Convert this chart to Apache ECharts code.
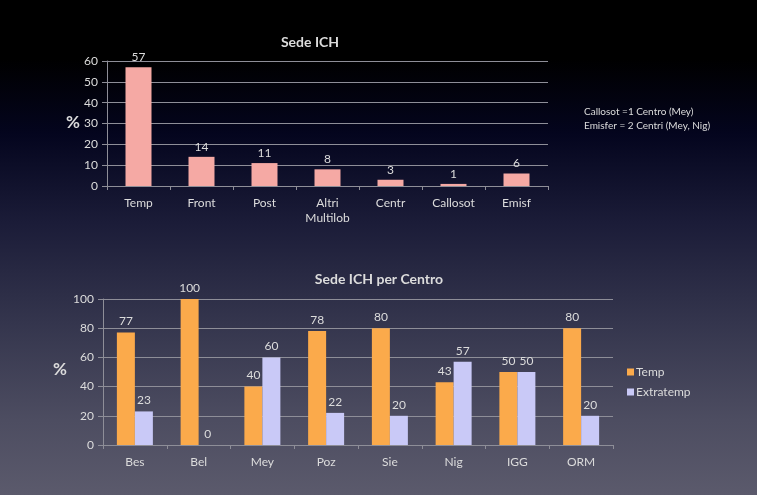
<!DOCTYPE html>
<html><head><meta charset="utf-8">
<script src="https://cdn.jsdelivr.net/npm/echarts@6/dist/echarts.min.js"></script>
<style>
html,body{margin:0;padding:0;}
body{background:linear-gradient(to bottom,#000 0%,#000 12%,#04051e 27%,#1b1c38 45%,#34354d 65%,#4d4d61 85%,#5b5a6c 100%);}
#c{width:757px;height:495px;}
</style></head><body><div id="c"></div>
<script>
const sedeCategories = ['Temp', 'Front', 'Post', 'Altri\nMultilob', 'Centr', 'Callosot', 'Emisf'];
const sedeValues = [57, 14, 11, 8, 3, 1, 6];
const sedeTicks = [0, 10, 20, 30, 40, 50, 60];

const centroCategories = ['Bes', 'Bel', 'Mey', 'Poz', 'Sie', 'Nig', 'IGG', 'ORM'];
const tempValues = [77, 100, 40, 78, 80, 43, 50, 80];
const extratempValues = [23, 0, 60, 22, 20, 57, 50, 20];
const centroTicks = [0, 20, 40, 60, 80, 100];

const notes = ['Callosot =1 Centro (Mey)', 'Emisfer = 2 Centri (Mey, Nig)'];

const FONT = 'Lato';
const txt = '#dcdcdc';
const grid = '#8e8e98';

const chart = echarts.init(document.getElementById('c'), null, {renderer: 'canvas'});
const axisCommonX = {
  type: 'category',
  axisLine: {lineStyle: {color: grid, width: 1}},
  axisTick: {show: true, length: 4, lineStyle: {color: grid}},
  axisLabel: {color: txt, fontFamily: FONT, fontSize: 12, margin: 10, lineHeight: 15}
};
const axisCommonY = {
  type: 'value',
  axisLine: {show: true, lineStyle: {color: grid, width: 1}},
  axisTick: {show: true, length: 5, lineStyle: {color: grid}},
  splitLine: {show: true, lineStyle: {color: grid, width: 1}},
  axisLabel: {color: txt, fontFamily: FONT, fontSize: 12, margin: 9}
};
chart.setOption({
  animation: false,
  backgroundColor: 'transparent',
  textStyle: {fontFamily: FONT},
  title: [
    {text: 'Sede ICH', left: 305, top: 30, textAlign: 'center',
     textStyle: {color: txt, fontFamily: FONT, fontWeight: 'bold', fontSize: 14}},
    {text: 'Sede ICH per Centro', left: 374, top: 267, textAlign: 'center',
     textStyle: {color: txt, fontFamily: FONT, fontWeight: 'bold', fontSize: 14}}
  ],
  grid: [
    {left: 107, right: 209, top: 61, bottom: 309},
    {left: 103, right: 144, top: 299, bottom: 50}
  ],
  legend: {
    data: ['Temp', 'Extratemp'], orient: 'vertical', left: 627, top: 366,
    itemWidth: 7, itemHeight: 7, itemGap: 8, icon: 'rect', padding: 0,
    textStyle: {color: txt, fontFamily: FONT, fontSize: 12, padding: [0, 0, 0, -3]}
  },
  xAxis: [
    Object.assign({gridIndex: 0, data: sedeCategories}, axisCommonX),
    Object.assign({gridIndex: 1, data: centroCategories}, axisCommonX)
  ],
  yAxis: [
    Object.assign({gridIndex: 0, min: sedeTicks[0], max: sedeTicks[sedeTicks.length - 1], interval: sedeTicks[1] - sedeTicks[0]}, axisCommonY),
    Object.assign({gridIndex: 1, min: centroTicks[0], max: centroTicks[centroTicks.length - 1], interval: centroTicks[1] - centroTicks[0]}, axisCommonY)
  ],
  graphic: [
    {type: 'text', left: 66, top: 114, style: {text: '%', fill: txt, font: 'bold 17px Lato'}},
    {type: 'text', left: 53, top: 361, style: {text: '%', fill: txt, font: 'bold 17px Lato'}},
    {type: 'text', left: 584, top: 105, style: {text: notes.join('\n'), fill: txt, font: '10px Lato', lineHeight: 14}}
  ],
  series: [
    {type: 'bar', name: 'Sede', xAxisIndex: 0, yAxisIndex: 0, data: sedeValues, barWidth: 26,
     itemStyle: {color: '#f5a9a4'},
     label: {show: true, position: 'top', distance: 4, color: txt, fontFamily: FONT, fontSize: 12}},
    {type: 'bar', name: 'Temp', xAxisIndex: 1, yAxisIndex: 1, data: tempValues, barWidth: 18, barGap: '0%',
     itemStyle: {color: '#fbaa4b'},
     label: {show: true, position: 'top', distance: 5, color: txt, fontFamily: FONT, fontSize: 12}},
    {type: 'bar', name: 'Extratemp', xAxisIndex: 1, yAxisIndex: 1, data: extratempValues, barWidth: 18, barGap: '0%',
     itemStyle: {color: '#c9c9f7'},
     label: {show: true, position: 'top', distance: 5, color: txt, fontFamily: FONT, fontSize: 12}}
  ]
});
</script></body></html>
